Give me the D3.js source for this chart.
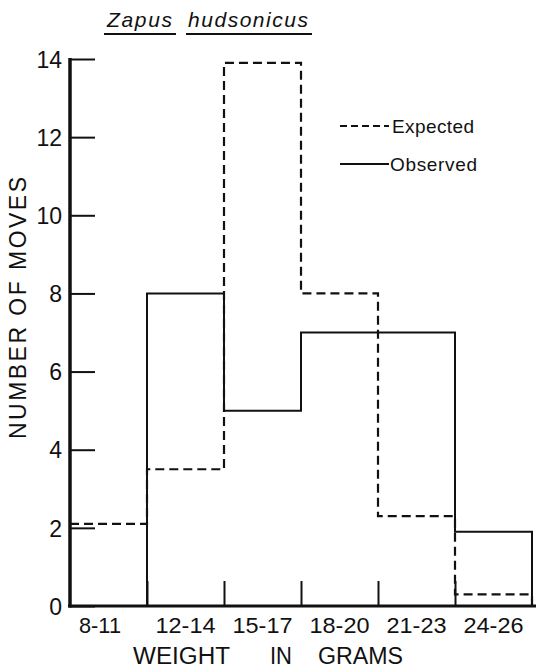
<!DOCTYPE html>
<html><head><meta charset="utf-8">
<script src="https://cdn.jsdelivr.net/npm/d3@7"></script>
<style>
html,body{margin:0;padding:0;background:#fff;}
svg{display:block;}
text{font-family:"Liberation Sans",Arial,sans-serif;fill:#111;}
</style></head>
<body>
<svg id="c" width="538" height="668"></svg>
<script>
const categories = ["8-11","12-14","15-17","18-20","21-23","24-26"];
const expected = [2.1, 3.5, 13.9, 8, 2.3, 0.3];
const observed = [0, 8, 5, 7, 7, 1.9];
const yTicks = [0, 2, 4, 6, 8, 10, 12, 14];
const titleWords = ["Zapus", "hudsonicus"];
const legendLabels = ["Expected", "Observed"];
const xTitleWords = ["WEIGHT", "IN", "GRAMS"];

const svg = d3.select("#c");
const ink = "#111";

const x = d3.scaleLinear().domain([0, categories.length]).range([70, 532]);
const xb = d3.scaleBand().domain(categories).range([70, 532]);
const y = d3.scaleLinear().domain([0, 14]).range([606, 59]);

// y axis
const ya = svg.append("g").attr("transform", "translate(70,0)")
  .call(d3.axisLeft(y).tickValues(yTicks).tickSize(-25).tickPadding(8).tickFormat(d3.format("d")));
ya.select(".domain").remove();
ya.selectAll(".tick line").attr("stroke", ink).attr("stroke-width", 2);
ya.selectAll(".tick text").style("font-size", "23px").attr("fill", ink).attr("dy", "0.36em");
svg.append("line").attr("x1", 70).attr("x2", 70).attr("y1", y(14) - 1).attr("y2", y(0) + 1.5)
  .attr("stroke", ink).attr("stroke-width", 3.5);

// x axis ticks at bin boundaries
const xt = svg.append("g").attr("transform", "translate(0,606)")
  .call(d3.axisBottom(x).tickValues([1, 2, 3, 4, 5]).tickSize(-25).tickFormat(""));
xt.select(".domain").remove();
xt.selectAll(".tick line").attr("stroke", ink).attr("stroke-width", 2);

// x labels
const xl = svg.append("g").attr("transform", "translate(0,606)")
  .call(d3.axisBottom(xb).tickSize(0).tickPadding(11));
xl.select(".domain").remove();
xl.selectAll(".tick text").style("font-size", "22px").attr("fill", ink).attr("dy", "0.71em")
  .attr("textLength", (d, i) => i === 0 ? 42 : 60).attr("lengthAdjust", "spacingAndGlyphs");
xl.selectAll(".tick").filter((d, i) => i === 0).attr("transform", "translate(100,0)");

svg.append("line").attr("x1", 68).attr("x2", 536).attr("y1", 606).attr("y2", 606)
  .attr("stroke", ink).attr("stroke-width", 3);

// step lines
function stepPts(vals) {
  const p = vals.map((v, i) => [i, v]);
  p.push([vals.length, vals[vals.length - 1]]);
  p.push([vals.length, 0]);
  return p;
}
const line = d3.line().x(d => x(d[0])).y(d => y(d[1])).curve(d3.curveStepAfter);
svg.append("path").attr("d", line(stepPts(observed)))
  .attr("fill", "none").attr("stroke", ink).attr("stroke-width", 2);
svg.append("path").attr("d", line(stepPts(expected)))
  .attr("fill", "none").attr("stroke", ink).attr("stroke-width", 2.2)
  .attr("stroke-dasharray", "9,5");

// title
const tg = svg.append("g");
tg.append("text").attr("x", 107).attr("y", 27).text(titleWords[0])
  .style("font-size", "21px").style("font-style", "italic").attr("textLength", 65);
tg.append("text").attr("x", 188).attr("y", 27).text(titleWords[1])
  .style("font-size", "21px").style("font-style", "italic").attr("textLength", 120);
tg.append("line").attr("x1", 104).attr("x2", 176).attr("y1", 34).attr("y2", 34).attr("stroke", ink).attr("stroke-width", 2);
tg.append("line").attr("x1", 186).attr("x2", 312).attr("y1", 34).attr("y2", 34).attr("stroke", ink).attr("stroke-width", 2);

// legend
const lg = svg.append("g");
lg.append("line").attr("x1", 340).attr("x2", 389).attr("y1", 126).attr("y2", 126)
  .attr("stroke", ink).attr("stroke-width", 2).attr("stroke-dasharray", "7,4");
lg.append("line").attr("x1", 340).attr("x2", 389).attr("y1", 164).attr("y2", 164)
  .attr("stroke", ink).attr("stroke-width", 2);
lg.append("text").attr("x", 392).attr("y", 133).text(legendLabels[0]).style("font-size", "19px").attr("textLength", 82);
lg.append("text").attr("x", 390).attr("y", 171).text(legendLabels[1]).style("font-size", "19px").attr("textLength", 87);

// axis titles
svg.append("text").attr("transform", "translate(26,308) rotate(-90)").attr("text-anchor", "middle")
  .text("NUMBER OF MOVES").style("font-size", "23px").attr("textLength", 262);
const xTitleX = [133, 270, 318];
const xTitleLen = [97, 22, 85];
xTitleWords.forEach((w, i) => {
  svg.append("text").attr("x", xTitleX[i]).attr("y", 664).text(w)
    .style("font-size", "23px").attr("textLength", xTitleLen[i]).attr("lengthAdjust", "spacingAndGlyphs");
});
</script>
</body></html>
